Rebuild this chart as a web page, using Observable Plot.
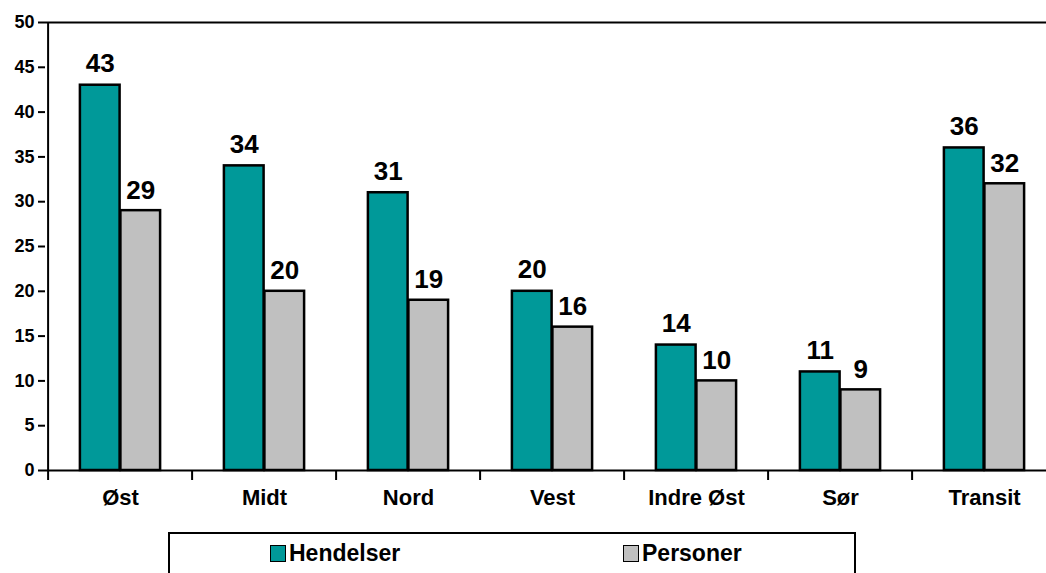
<!DOCTYPE html>
<html><head><meta charset="utf-8">
<script src="https://cdn.jsdelivr.net/npm/d3@7"></script>
<script src="https://cdn.jsdelivr.net/npm/@observablehq/plot@0.6"></script>
<style>
body{margin:0;background:#fff;font-family:"Liberation Sans",Arial,sans-serif;}
#wrap{position:relative;width:1046px;height:573px;overflow:hidden;background:#fff;}
#chart svg{display:block;overflow:visible;}
#legend{position:absolute;left:168px;top:532px;width:688px;height:60px;border:2px solid #000;box-sizing:border-box;}
.item{position:absolute;top:6px;display:flex;align-items:center;font-weight:bold;font-size:23px;color:#000;}
.sw{width:14px;height:15px;border:1.5px solid #000;margin-right:3px;}
</style></head><body>
<div id="wrap"><div id="chart"></div><div id="legend"></div></div>
<script>
const categories = ["Øst", "Midt", "Nord", "Vest", "Indre Øst", "Sør", "Transit"];
const seriesNames = ["Hendelser", "Personer"];
const hendelser = [43, 34, 31, 20, 14, 11, 36];
const personer = [29, 20, 19, 16, 10, 9, 32];
const yTicks = [0, 5, 10, 15, 20, 25, 30, 35, 40, 45, 50];
const colors = ["#009999", "#C0C0C0"];

const data = categories.flatMap((c, i) => [
  {cat: c, series: seriesNames[0], value: hendelser[i]},
  {cat: c, series: seriesNames[1], value: personer[i]}
]);

const X0 = 45, BW = 144.8, X1 = X0 + BW * categories.length;
const barW = 40.5, gap = (BW - 2 * barW) / 2;
const font = {fontFamily: "Liberation Sans, Arial, sans-serif", fontWeight: "bold"};

const chart = Plot.plot({
  width: 1046, height: 532,
  marginTop: 22, marginBottom: 62, marginLeft: 45, marginRight: 0,
  style: {fontFamily: font.fontFamily, overflow: "visible", background: "#fff"},
  x: {domain: categories, range: [X0, X1], padding: 0, label: null},
  y: {domain: [0, 50], label: null},
  marks: [
    Plot.barY(data.filter(d => d.series === seriesNames[0]), {
      x: "cat", y: "value", fill: colors[0], stroke: "#000", strokeWidth: 2.5,
      insetLeft: gap, insetRight: BW - gap - barW
    }),
    Plot.barY(data.filter(d => d.series === seriesNames[1]), {
      x: "cat", y: "value", fill: colors[1], stroke: "#000", strokeWidth: 2.5,
      insetLeft: gap + barW, insetRight: gap
    }),
    Plot.text(data.filter(d => d.series === seriesNames[0]), {
      x: "cat", y: "value", text: d => String(d.value), dx: -(barW / 2), dy: -13,
      lineAnchor: "bottom", fontSize: 26, ...font, fill: "#000"
    }),
    Plot.text(data.filter(d => d.series === seriesNames[1]), {
      x: "cat", y: "value", text: d => String(d.value), dx: barW / 2, dy: -12,
      lineAnchor: "bottom", fontSize: 26, ...font, fill: "#000"
    }),
    Plot.ruleY([0, 50], {stroke: "#000", strokeWidth: 2}),
    Plot.ruleX([categories[0]], {dx: -BW / 2, stroke: "#000", strokeWidth: 2}),
    Plot.axisY({ticks: yTicks, tickSize: 7, tickPadding: 4, fontSize: 18, ...font, stroke: "#000", strokeWidth: 2, label: null}),
    Plot.axisX({tickSize: 10, text: null, dx: -BW / 2, stroke: "#000", strokeWidth: 2, label: null}),
    Plot.axisX({tickSize: 0, tickPadding: 19, fontSize: 22, ...font, label: null})
  ]
});
document.getElementById("chart").appendChild(chart);

const legend = document.getElementById("legend");
const lefts = [100, 453];
seriesNames.forEach((s, i) => {
  const it = document.createElement("div");
  it.className = "item";
  it.style.left = lefts[i] + "px";
  const sw = document.createElement("div");
  sw.className = "sw";
  sw.style.background = colors[i];
  it.appendChild(sw);
  const t = document.createElement("span");
  t.textContent = s;
  it.appendChild(t);
  legend.appendChild(it);
});
</script>
</body></html>
